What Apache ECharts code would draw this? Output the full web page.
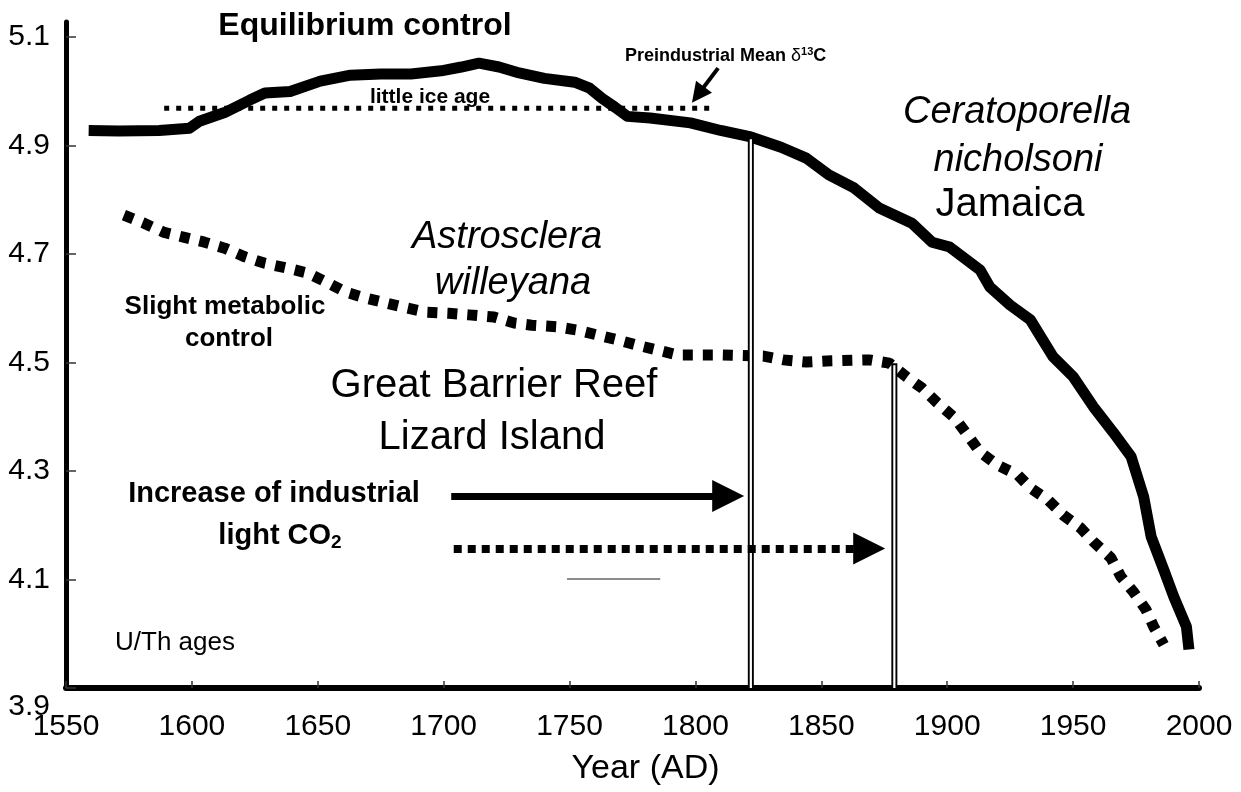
<!DOCTYPE html>
<html>
<head>
<meta charset="utf-8">
<script src="https://cdn.jsdelivr.net/npm/echarts@6/dist/echarts.min.js"></script>
<style>
html,body{margin:0;padding:0;background:#fff;}
#chart{width:1241px;height:792px;}
</style>
</head>
<body>
<div id="chart"></div>
<script>
// ---- data ----
const xTicks = [1550,1600,1650,1700,1750,1800,1850,1900,1950,2000];
const yTicks = [3.9,4.1,4.3,4.5,4.7,4.9,5.1];

// Ceratoporella nicholsoni, Jamaica (solid)
const solidYears = [1559,1571,1587,1599,1603,1613,1623,1629,1639,1651,1663,1675,1687,1699,1707,1714,1722,1730,1740,1752,1758,1763,1768,1773,1782,1798,1810,1822,1834,1844,1853,1863,1873,1886,1894,1901,1913,1917,1925,1933,1942,1950,1958,1966,1973,1978,1981,1986,1990,1995,1996];
const solidValues = [4.928,4.927,4.928,4.932,4.945,4.961,4.984,4.997,5.000,5.019,5.030,5.032,5.032,5.038,5.045,5.052,5.045,5.034,5.024,5.017,5.006,4.987,4.971,4.954,4.951,4.942,4.928,4.916,4.897,4.877,4.846,4.822,4.785,4.757,4.722,4.713,4.671,4.639,4.606,4.579,4.511,4.474,4.419,4.371,4.327,4.253,4.179,4.118,4.068,4.013,3.971];

// Astrosclera willeyana, Great Barrier Reef (dashed)
const dashedYears = [1573,1581,1589,1597,1605,1613,1621,1629,1638,1646,1654,1661,1669,1677,1685,1693,1702,1710,1720,1728,1735,1745,1753,1761,1769,1777,1785,1793,1810,1827,1835,1844,1852,1869,1877,1884,1890,1896,1903,1908,1913,1920,1928,1933,1940,1946,1953,1958,1965,1969,1974,1979,1982,1986];
const dashedValues = [4.772,4.757,4.740,4.731,4.722,4.711,4.695,4.683,4.674,4.665,4.647,4.630,4.619,4.610,4.601,4.593,4.591,4.588,4.584,4.573,4.569,4.566,4.560,4.551,4.542,4.532,4.523,4.514,4.514,4.512,4.505,4.501,4.503,4.505,4.499,4.473,4.453,4.426,4.398,4.367,4.335,4.311,4.293,4.269,4.247,4.219,4.195,4.170,4.140,4.105,4.077,4.044,4.013,3.980];

// Preindustrial mean (dotted)
const meanYears = [1589,1807];
const meanValues = [4.969,4.969];

// Onset markers (double vertical lines)
const onsetYears = [1822,1879];
const onsetTops = [4.916,4.499];

// Arrows [x1,y1,x2,y2]
const arrowSolid = [1703,4.254,1813,4.254];
const arrowDashed = [1704,4.157,1869,4.157];
const arrowMean = [1809,5.043,1801,4.994];
const grayRule = [1749,4.101,1786,4.101];

// ---- build ----
const FONT = "'Liberation Sans', Arial, Helvetica, sans-serif";
const zip = (a,b) => a.map((v,i)=>[v,b[i]]);

const series = [
  {type:'line', data: zip(meanYears, meanValues), showSymbol:false, silent:true, z:2,
   lineStyle:{color:'#000', width:5, type:[5,7]}},
  {type:'line', data: zip(dashedYears, dashedValues), showSymbol:false, silent:true, z:3,
   lineStyle:{color:'#000', width:11, type:[10,10]}},
  {type:'line', data: zip(solidYears, solidValues), showSymbol:false, silent:true, z:4,
   lineStyle:{color:'#000', width:11, join:'round'}},
];
onsetYears.forEach((yr,i)=>{
  series.push({type:'line', data:[[yr,3.9],[yr,onsetTops[i]]], showSymbol:false, silent:true, z:5,
    lineStyle:{color:'#000', width:6}});
  series.push({type:'line', data:[[yr,3.9],[yr,onsetTops[i]-0.004]], showSymbol:false, silent:true, z:6,
    lineStyle:{color:'#fff', width:2.2}});
});
series.push({type:'lines', coordinateSystem:'cartesian2d', silent:true, z:7,
  symbol:['none','triangle'], symbolSize:[28,32],
  lineStyle:{color:'#000', width:7, opacity:1},
  data:[{coords:[[arrowSolid[0],arrowSolid[1]],[arrowSolid[2],arrowSolid[3]]]}]});
series.push({type:'lines', coordinateSystem:'cartesian2d', silent:true, z:7,
  symbol:['none','triangle'], symbolSize:[30,32],
  lineStyle:{color:'#000', width:8, type:[8,6], opacity:1},
  data:[{coords:[[arrowDashed[0],arrowDashed[1]],[arrowDashed[2],arrowDashed[3]]]}]});
series.push({type:'lines', coordinateSystem:'cartesian2d', silent:true, z:7,
  symbol:['none','triangle'], symbolSize:[20,20],
  lineStyle:{color:'#000', width:4, opacity:1},
  data:[{coords:[[arrowMean[0],arrowMean[1]],[arrowMean[2],arrowMean[3]]]}]});
series.push({type:'line', data:[[grayRule[0],grayRule[1]],[grayRule[2],grayRule[3]]], showSymbol:false, silent:true, z:2,
  lineStyle:{color:'#666', width:1.5}});

function txt(text, x, y, size, opts){
  opts = opts || {};
  return {type:'text', x:x, y:y, z:100, silent:true,
    style:Object.assign({text:text, fontFamily:FONT, fontSize:size, fontWeight:opts.weight||'normal',
      fontStyle:opts.style||'normal', fill:'#000', align:opts.align||'center', verticalAlign:'middle'}, opts.extra||{})};
}

const graphics = [
  txt('Equilibrium control', 365, 26, 32, {weight:'bold'}),
  txt('{b|Preindustrial Mean }{d|δ}{s|13}{b|C}', 625, 56, 18, {align:'left', extra:{
    rich:{ b:{fontFamily:FONT, fontSize:18, fontWeight:'bold', fill:'#000'},
           d:{fontFamily:FONT, fontSize:18, fill:'#000'},
           s:{fontFamily:FONT, fontSize:11, fontWeight:'bold', fill:'#000', verticalAlign:'top', padding:[0,0,8,0]} }}}),
  txt('little ice age', 430, 97, 21, {weight:'bold'}),
  txt('Ceratoporella', 1017, 112, 38, {style:'italic'}),
  txt('nicholsoni', 1018, 160, 38, {style:'italic'}),
  txt('Jamaica', 1010, 205, 40),
  txt('Astrosclera', 507, 237, 38, {style:'italic'}),
  txt('willeyana', 513, 283, 38, {style:'italic'}),
  txt('Slight metabolic', 225, 307, 26, {weight:'bold'}),
  txt('control', 229, 339, 26, {weight:'bold'}),
  txt('Great Barrier Reef', 494, 386, 40),
  txt('Lizard Island', 492, 438, 40),
  txt('Increase of industrial', 274, 494, 29, {weight:'bold'}),
  txt('{b|light CO}{s|2}', 280, 536, 29, {extra:{
    rich:{ b:{fontFamily:FONT, fontSize:29, fontWeight:'bold', fill:'#000'},
           s:{fontFamily:FONT, fontSize:19, fontWeight:'bold', fill:'#000', padding:[14,0,0,0]} }}}),
  txt('U/Th ages', 175, 643, 26),
];

const chart = echarts.init(document.getElementById('chart'), null, {renderer:'canvas'});
chart.setOption({
  animation:false,
  backgroundColor:'#fff',
  grid:{left:66, right:42, top:22, bottom:104, containLabel:false},
  xAxis:{
    type:'value', min:1550, max:2000, interval:50,
    name:'Year (AD)', nameLocation:'middle', nameGap:64,
    nameTextStyle:{fontFamily:FONT, fontSize:34, color:'#000', padding:[0,0,0,26]},
    axisLine:{show:true, onZero:false, lineStyle:{color:'#000', width:6}},
    axisTick:{show:true, inside:true, length:7, lineStyle:{color:'#333', width:1.5}, customValues:xTicks},
    axisLabel:{fontFamily:FONT, fontSize:30, color:'#000', margin:24, customValues:xTicks,
      formatter:function(v){ return String(Math.round(v)); }},
    splitLine:{show:false}
  },
  yAxis:{
    type:'value', min:3.9, max:5.128, interval:0.2,
    axisLine:{show:true, onZero:false, lineStyle:{color:'#000', width:5}},
    axisTick:{show:true, inside:true, length:10, lineStyle:{color:'#333', width:1.5}, customValues:yTicks},
    axisLabel:{fontFamily:FONT, fontSize:30, color:'#000', margin:16, customValues:yTicks,
      formatter:function(v){ const s=(+v).toFixed(1); return Math.abs(v-3.9)<1e-6 ? '{low|'+s+'}' : s; },
      rich:{low:{fontFamily:FONT, fontSize:30, color:'#000', padding:[38,0,0,0]}}},
    splitLine:{show:false}
  },
  series:series,
  graphic:graphics
});
</script>
</body>
</html>
